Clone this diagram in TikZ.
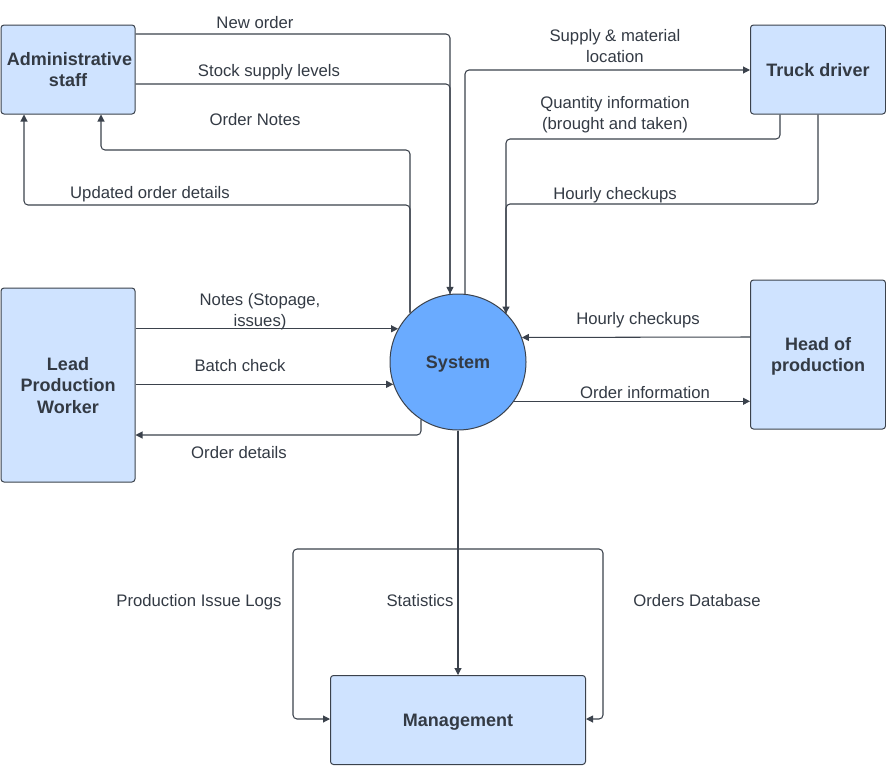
\documentclass[tikz,border=0pt]{standalone}
\usepackage{fontspec}
\setmainfont{Liberation Sans}
\usetikzlibrary{arrows.meta}
\definecolor{boxfill}{HTML}{CFE3FF}
\definecolor{circfill}{HTML}{6AABFF}
\definecolor{linec}{HTML}{3B424C}
\definecolor{txt}{HTML}{333A44}
\begin{document}
\begin{tikzpicture}[x=1pt,y=-1pt,
  entity/.style={draw=linec, fill=boxfill, line width=1pt, rounded corners=3pt, inner sep=0pt,
    font=\fontsize{18}{21.5}\selectfont\bfseries, text=txt, align=center, text depth=0pt},
  proc/.style={circle, draw=linec, fill=circfill, line width=1pt, minimum size=136pt, inner sep=0pt,
    font=\fontsize{18}{21.5}\selectfont\bfseries, text=txt, text depth=0pt},
  flow/.style={draw=linec, line width=1.05pt, rounded corners=4pt, -{Triangle[length=7pt,width=7pt]}},
  plainflow/.style={draw=linec, line width=1.05pt, rounded corners=4pt},
  lbl/.style={font=\fontsize{16.7}{21}\selectfont, text=txt, align=center, inner sep=0pt},
  lblone/.style={lbl, text depth=0pt}
]
\useasboundingbox (0,0) rectangle (886,766);

% entities
\node[entity, minimum width=134pt, minimum height=89pt] (admin) at (68,69.5) {\hspace*{3pt}Administrative\\staff};
\node[entity, minimum width=135pt, minimum height=89pt] (truck) at (818,69.5) {Truck driver};
\node[entity, minimum width=135pt, minimum height=149pt] (head) at (818,354.5) {Head of\\production};
\node[entity, minimum width=134pt, minimum height=194pt] (lpw) at (68,385) {Lead\\Production\\Worker};
\node[entity, minimum width=255pt, minimum height=89pt] (mgmt) at (458,720) {Management};
\node[proc] (sys) at (458,362) {System};

% bend coordinates
\coordinate (c1) at (450,34);
\coordinate (c2) at (450,84);
\coordinate (c3) at (410,150);
\coordinate (c3b) at (101,150);
\coordinate (c4) at (410,205);
\coordinate (c4b) at (24,205);
\coordinate (c5) at (465,70);
\coordinate (c6) at (780,139);
\coordinate (c6b) at (506,139);
\coordinate (c7) at (818,204);
\coordinate (c7b) at (506,204);
\coordinate (c8) at (750,337);
\coordinate (c9) at (421,435);
\coordinate (c10) at (458,549);
\coordinate (c10a) at (293,549);
\coordinate (c10b) at (293,719);
\coordinate (c11a) at (603,549);
\coordinate (c11b) at (603,719);

% connectors
\draw[plainflow] (admin.east |- c2) -- (c2) -- (c1 |- sys.96.8);
\draw[flow] (admin.east |- c1) -- (c1) -- (c1 |- sys.96.8);
\draw[flow] (c3 |- sys.134.9) -- (c3) -- (c3b) -- (c3b |- admin.south);
\draw[flow] (c4 |- sys.134.9) -- (c4) -- (c4b) -- (c4b |- admin.south);
\draw[flow] (c5 |- sys.84.1) -- (c5) -- (truck.west |- c5);
\draw[plainflow] (truck.south) -- (c7) -- (c7b) -- (c7b |- sys.45.1);
\draw[flow] (c6 |- truck.south) -- (c6) -- (c6b) -- (c6b |- sys.45.1);
\draw[flow] (head.west |- c8) -- (sys.21.6);
\draw[flow] (sys.-35) -- (head.west |- sys.-35);
\draw[flow] (lpw.east |- sys.151.9) -- (sys.151.9);
\draw[flow] (lpw.east |- sys.199.8) -- (sys.199.8);
\draw[flow] (c9 |- sys.237) -- (c9) -- (lpw.east |- c9);
\draw[flow] (sys.south) -- (mgmt.north);
\draw[flow] (c10) -- (c10a) -- (c10b) -- (mgmt.west |- c10b);
\draw[flow] (c10) -- (c11a) -- (c11b) -- (mgmt.east |- c11b);

% labels
\node[lblone] (l1) at (255,22.3) {New order};
\node[lblone] (l2) at (269,70) {Stock supply levels};
\node[lblone] (l3) at (255,119.7) {Order Notes};
\node[lblone] (l4) at (150,192) {Updated order details};
\node[lbl] (l5) at (615,46.5) {Supply \& material\\location};
\node[lbl] (l6) at (615,115) {Quantity information\\(brought and taken)};
\node[lblone] (l7) at (615,193) {Hourly checkups};
\node[lblone] (l8) at (638,318) {Hourly checkups};
\node[lblone] (l9) at (645,392) {Order information};
\node[lbl] (l10) at (260,312) {Notes (Stopage,\\issues)};
\node[lblone] (l11) at (240,365) {Batch check};
\node[lblone] (l12) at (239,452) {Order details};
\node[lblone] (l13) at (199,600) {Production Issue Logs};
\node[lblone] (l14) at (420,600) {Statistics};
\node[lblone] (l15) at (697,600) {Orders Database};
\end{tikzpicture}
\end{document}
